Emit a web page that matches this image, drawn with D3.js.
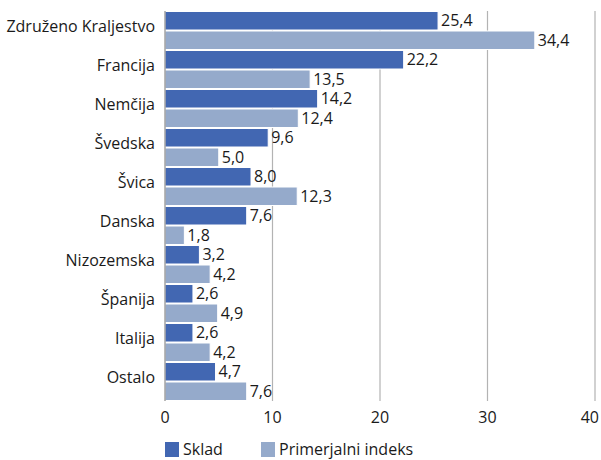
<!DOCTYPE html>
<html>
<head>
<meta charset="utf-8">
<script src="https://cdn.jsdelivr.net/npm/d3@7"></script>
<style>
  body { margin: 0; background: #fff; }
  text { font-family: "Open Sans", "Noto Sans", sans-serif; fill: #1a1a1a; }
</style>
</head>
<body>
<script>
// Data
const categories = ["Združeno Kraljestvo", "Francija", "Nemčija", "Švedska", "Švica",
    "Danska", "Nizozemska", "Španija", "Italija", "Ostalo"];
const sklad = [25.4, 22.2, 14.2, 9.6, 8.0, 7.6, 3.2, 2.6, 2.6, 4.7];
const primerjalni = [34.4, 13.5, 12.4, 5.0, 12.3, 1.8, 4.2, 4.9, 4.2, 7.6];
const seriesNames = ["Sklad", "Primerjalni indeks"];
const xTicks = [0, 10, 20, 30, 40];

const colors = ["#4267b2", "#95aacb"];
const width = 601, height = 460;
const plotLeft = 165, plotRight = 595, plotTop = 11, plotBottom = 401;

const svg = d3.select("body").append("svg")
    .attr("width", width)
    .attr("height", height);

const x = d3.scaleLinear().domain([0, 40]).range([plotLeft, plotRight]);
const y = d3.scaleBand().domain(categories).range([plotTop, plotBottom]).padding(0);
const sub = d3.scaleBand().domain(seriesNames).range([0, y.bandwidth()]).padding(0);

// gridlines
svg.append("g")
    .selectAll("line")
    .data(xTicks.slice(1))
    .enter()
    .append("line")
    .attr("x1", d => x(d)).attr("x2", d => x(d))
    .attr("y1", plotTop).attr("y2", plotBottom)
    .attr("stroke", "#b3b3b3")
    .attr("stroke-width", 1.2);

// bars
const fmt = v => v.toFixed(1).replace(".", ",");
const series = [sklad, primerjalni];

series.forEach((vals, s) => {
    const g = svg.append("g");
    g.selectAll("rect")
        .data(vals)
        .enter()
        .append("rect")
        .attr("x", x(0))
        .attr("y", (d, i) => y(categories[i]) + sub(seriesNames[s]) + 0.5)
        .attr("width", d => x(d) - x(0))
        .attr("height", sub.bandwidth() - 1)
        .attr("fill", colors[s])
        .attr("stroke", "#fff")
        .attr("stroke-width", 1);
    g.selectAll("text")
        .data(vals)
        .enter()
        .append("text")
        .attr("x", d => x(d) + 3)
        .attr("y", (d, i) => y(categories[i]) + sub(seriesNames[s]) + sub.bandwidth() / 2)
        .attr("dy", "0.33em")
        .attr("font-size", 16)
        .text(fmt);
});

// axis line at 0
svg.append("line")
    .attr("x1", x(0)).attr("x2", x(0))
    .attr("y1", plotTop).attr("y2", plotBottom)
    .attr("stroke", "#8c8c8c")
    .attr("stroke-width", 1.2);

// category labels
svg.append("g")
    .selectAll("text")
    .data(categories)
    .enter()
    .append("text")
    .attr("x", plotLeft - 10)
    .attr("y", d => y(d) + y.bandwidth() / 2 - 4)
    .attr("dy", "0.33em")
    .attr("text-anchor", "end")
    .attr("font-size", 16)
    .text(d => d);

// x tick labels (last one kept inside the window)
svg.append("g")
    .selectAll("text")
    .data(xTicks)
    .enter()
    .append("text")
    .attr("x", (d, i) => i === xTicks.length - 1 ? width - 2 : x(d))
    .attr("y", 418)
    .attr("dy", "0.33em")
    .attr("text-anchor", (d, i) => i === xTicks.length - 1 ? "end" : "middle")
    .attr("font-size", 16)
    .text(d => d);

// legend
const legendX = [165, 261];
const legend = svg.append("g");
seriesNames.forEach((name, i) => {
    legend.append("rect")
        .attr("x", legendX[i]).attr("y", 442)
        .attr("width", 14).attr("height", 15)
        .attr("fill", colors[i]);
    legend.append("text")
        .attr("x", legendX[i] + 18)
        .attr("y", 450)
        .attr("dy", "0.33em")
        .attr("font-size", 16)
        .text(name);
});
</script>
</body>
</html>
